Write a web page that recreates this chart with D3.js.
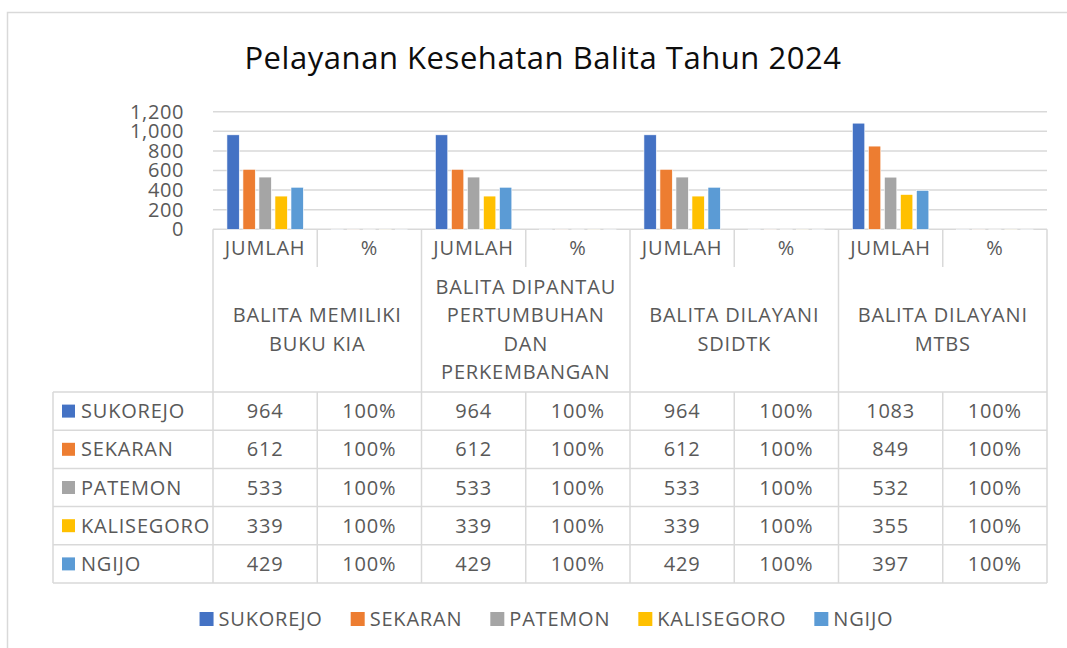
<!DOCTYPE html>
<html>
<head>
<meta charset="utf-8">
<script src="https://cdn.jsdelivr.net/npm/d3@7"></script>
<style>
  html, body { margin: 0; padding: 0; background: #fff; }
  svg { display: block; font-family: "Open Sans", sans-serif; letter-spacing: 0.8px; }
</style>
</head>
<body>
<svg id="chart" width="1067" height="648"></svg>
<script>
var title = 'Pelayanan Kesehatan Balita Tahun 2024';

var groupLines = [
  ['BALITA MEMILIKI', 'BUKU KIA'],
  ['BALITA DIPANTAU', 'PERTUMBUHAN', 'DAN', 'PERKEMBANGAN'],
  ['BALITA DILAYANI', 'SDIDTK'],
  ['BALITA DILAYANI', 'MTBS']
];
var subLabels = ['JUMLAH', '%'];

var seriesNames = ['SUKOREJO', 'SEKARAN', 'PATEMON', 'KALISEGORO', 'NGIJO'];
var seriesColors = ['#4472C4', '#ED7D31', '#A5A5A5', '#FFC000', '#5B9BD5'];

// JUMLAH per group, one array per series
var sukorejo = [964, 964, 964, 1083];
var sekaran = [612, 612, 612, 849];
var patemon = [533, 533, 533, 532];
var kalisegoro = [339, 339, 339, 355];
var ngijo = [429, 429, 429, 397];
// % per group (1 = 100%)
var percent = [1, 1, 1, 1];

var yTicks = [0, 200, 400, 600, 800, 1000, 1200];

var jumlah = [sukorejo, sekaran, patemon, kalisegoro, ngijo];

var cats = [];
groupLines.forEach(function(g, gi) {
  subLabels.forEach(function(s, si) {
    cats.push({ key: gi + '-' + si, group: gi, sub: si });
  });
});

function valueOf(series, cat) {
  return cat.sub === 0 ? jumlah[series][cat.group] : percent[cat.group];
}

function cellText(series, cat) {
  return cat.sub === 0
    ? String(jumlah[series][cat.group])
    : d3.format('.0%')(percent[cat.group]);
}

var svg = d3.select('#chart');
var grid = '#D9D9D9';
var ink = '#595959';
var fontSize = 20;

var plot = { left: 213, right: 1047, top: 111.7, bottom: 229.3 };
var table = { left: 53, headTop: 229.3, subBottom: 267, headBottom: 392, rowH: 38.2 };

var x0 = d3.scaleBand()
  .domain(cats.map(function(d) { return d.key; }))
  .range([plot.left, plot.right]);

var x1 = d3.scaleBand()
  .domain(d3.range(seriesNames.length))
  .range([0, x0.bandwidth()])
  .paddingInner(0.23)
  .paddingOuter(0.87);

var y = d3.scaleLinear()
  .domain([0, 1200])
  .range([plot.bottom, plot.top]);

// outer frame
svg.append('rect')
  .attr('x', 7.5).attr('y', 12.5)
  .attr('width', 1080).attr('height', 660)
  .attr('fill', '#fff')
  .attr('stroke', grid)
  .attr('stroke-width', 1.5);

svg.append('text')
  .attr('x', 543)
  .attr('y', 68.5)
  .attr('text-anchor', 'middle')
  .attr('font-size', 31)
  .attr('letter-spacing', '0.55px')
  .attr('fill', '#0d0d0d')
  .text(title);

// gridlines
svg.append('g')
  .selectAll('line')
  .data(yTicks)
  .join('line')
    .attr('x1', plot.left)
    .attr('x2', plot.right)
    .attr('y1', function(d) { return y(d); })
    .attr('y2', function(d) { return y(d); })
    .attr('stroke', grid)
    .attr('stroke-width', 1.5);

var yAxis = svg.append('g')
  .attr('transform', 'translate(184,0)')
  .call(d3.axisLeft(y).tickValues(yTicks).tickFormat(d3.format(',')).tickSize(0).tickPadding(0));
yAxis.select('.domain').remove();
yAxis.selectAll('text')
  .attr('font-family', '"Open Sans", sans-serif')
  .attr('font-size', fontSize)
  .attr('letter-spacing', '0.6px')
  .attr('fill', ink);

// bars
svg.append('g')
  .selectAll('g')
  .data(cats)
  .join('g')
    .attr('transform', function(d) { return 'translate(' + x0(d.key) + ',0)'; })
  .selectAll('rect')
  .data(function(c) {
    return seriesNames.map(function(s, i) { return { series: i, v: valueOf(i, c) }; });
  })
  .join('rect')
    .attr('x', function(d) { return x1(d.series); })
    .attr('width', x1.bandwidth())
    .attr('y', function(d) { return y(d.v); })
    .attr('height', function(d) { return y(0) - y(d.v); })
    .attr('fill', function(d) { return seriesColors[d.series]; })
    .attr('stroke', '#fff')
    .attr('stroke-width', 0.6);

// data table
var tbl = svg.append('g')
  .attr('stroke', grid)
  .attr('stroke-width', 1.5);

var rowTops = d3.range(seriesNames.length + 1).map(function(i) {
  return table.headBottom + i * table.rowH;
});
var tableBottom = rowTops[rowTops.length - 1];

tbl.selectAll('.row-line')
  .data(rowTops)
  .join('line')
    .attr('class', 'row-line')
    .attr('x1', table.left).attr('x2', plot.right)
    .attr('y1', function(d) { return d; }).attr('y2', function(d) { return d; });

tbl.append('line')
  .attr('x1', table.left).attr('x2', table.left)
  .attr('y1', table.headBottom).attr('y2', tableBottom);

tbl.selectAll('.group-line')
  .data(d3.range(groupLines.length + 1))
  .join('line')
    .attr('class', 'group-line')
    .attr('x1', function(i) { return plot.left + i * 2 * x0.step(); })
    .attr('x2', function(i) { return plot.left + i * 2 * x0.step(); })
    .attr('y1', table.headTop).attr('y2', tableBottom);

var subX = groupLines.map(function(g, i) { return x0(i + '-1'); });

tbl.selectAll('.sub-head')
  .data(subX)
  .join('line')
    .attr('class', 'sub-head')
    .attr('x1', function(d) { return d; }).attr('x2', function(d) { return d; })
    .attr('y1', table.headTop).attr('y2', table.subBottom);

tbl.selectAll('.sub-body')
  .data(subX)
  .join('line')
    .attr('class', 'sub-body')
    .attr('x1', function(d) { return d; }).attr('x2', function(d) { return d; })
    .attr('y1', table.headBottom).attr('y2', tableBottom);

var txt = svg.append('g')
  .attr('font-size', fontSize)
  .attr('fill', ink)
  .attr('text-anchor', 'middle');

txt.selectAll('.sub-label')
  .data(cats)
  .join('text')
    .attr('class', 'sub-label')
    .attr('x', function(d) { return x0(d.key) + x0.bandwidth() / 2; })
    .attr('y', (table.headTop + table.subBottom) / 2)
    .attr('dy', '0.35em')
    .text(function(d) { return subLabels[d.sub]; });

var lineH = 28.4;
var midHead = (table.subBottom + table.headBottom) / 2;

txt.selectAll('.group-label')
  .data(groupLines)
  .join('text')
    .attr('class', 'group-label')
    .attr('transform', function(d, i) {
      return 'translate(' + (plot.left + (i * 2 + 1) * x0.step()) + ',' + midHead + ')';
    })
  .selectAll('tspan')
  .data(function(d) { return d.map(function(t, j) { return { t: t, j: j, n: d.length }; }); })
  .join('tspan')
    .attr('x', 0)
    .attr('y', function(d) { return (d.j - (d.n - 1) / 2) * lineH; })
    .attr('dy', '0.35em')
    .text(function(d) { return d.t; });

var rows = svg.append('g')
  .attr('font-size', fontSize)
  .attr('fill', ink)
  .selectAll('g')
  .data(seriesNames)
  .join('g')
    .attr('transform', function(d, i) {
      return 'translate(0,' + (rowTops[i] + table.rowH / 2) + ')';
    });

rows.append('rect')
  .attr('x', 62).attr('y', -6.5)
  .attr('width', 13).attr('height', 13)
  .attr('fill', function(d, i) { return seriesColors[i]; });

rows.append('text')
  .attr('x', 81)
  .attr('dy', '0.35em')
  .text(function(d) { return d; });

rows.selectAll('.cell')
  .data(function(d, i) { return cats.map(function(c) { return { s: i, c: c }; }); })
  .join('text')
    .attr('class', 'cell')
    .attr('text-anchor', 'middle')
    .attr('x', function(d) { return x0(d.c.key) + x0.bandwidth() / 2; })
    .attr('dy', '0.35em')
    .text(function(d) { return cellText(d.s, d.c); });

// legend
var legend = svg.append('g')
  .attr('font-size', fontSize)
  .attr('fill', ink);

var items = legend.selectAll('g')
  .data(seriesNames)
  .join('g');

items.append('rect')
  .attr('y', -7)
  .attr('width', 14).attr('height', 14)
  .attr('fill', function(d, i) { return seriesColors[i]; });

items.append('text')
  .attr('x', 19)
  .attr('dy', '0.35em')
  .text(function(d) { return d; });

var pos = 0;
var offsets = [];
items.each(function() {
  offsets.push(pos);
  pos += 19 + this.querySelector('text').getComputedTextLength() + 28;
});
var legendWidth = pos - 28;
var legendLeft = 546.5 - legendWidth / 2;

items.attr('transform', function(d, i) {
  return 'translate(' + (legendLeft + offsets[i]) + ',619)';
});
</script>
</body>
</html>
